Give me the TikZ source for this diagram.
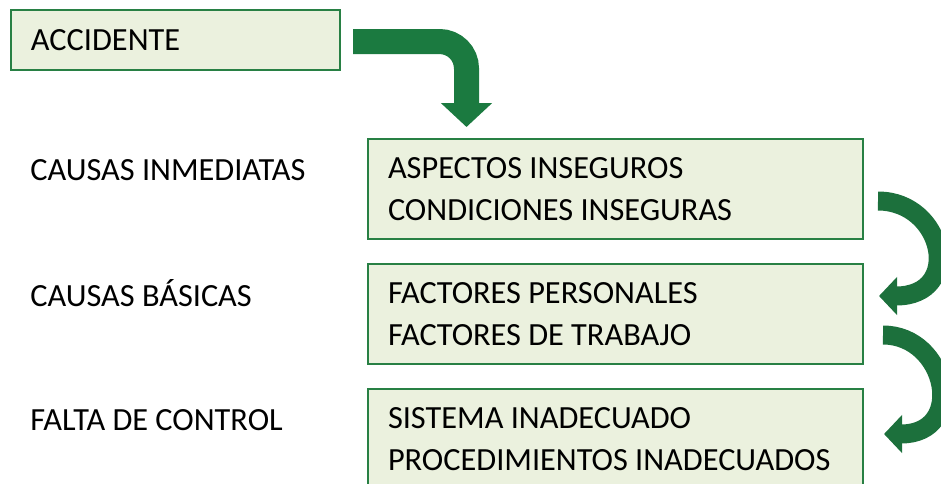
\documentclass[tikz,border=0pt]{standalone}
\usepackage{fontspec}
\setmainfont{Carlito}
\usetikzlibrary{arrows.meta, positioning, math, calc}

\definecolor{boxGreen}{RGB}{40,128,68}
\definecolor{boxFill}{RGB}{235,241,222}
\definecolor{arrowGreen}{RGB}{27,122,64}
\definecolor{curveGreen}{RGB}{28,112,60}

\begin{document}
\begin{tikzpicture}[x=0.02cm, y=-0.02cm]
	\tikzmath{
		\px       = 0.02;        %one pixel in cm
		\boxW     = 495*\px;     %box width
		\boxH     = 100*\px;     %box height
		\boxDist  = 23*\px;      %gap between the boxes
		\textX    = 30;          %left edge of the labels
		\bentW    = 25*\px;      %width of the bent arrow
		\curveW   = 19*\px;      %width of the curved arrows
	}
	\tikzstyle{Txt} = [font=\fontsize{18.4}{23.5}\selectfont]
	\tikzstyle{Box} = [
		Txt,
		rectangle,
		draw=boxGreen,
		line width=2*\px cm,
		fill=boxFill,
		inner xsep=20*\px cm,
		text width=\boxW cm - 40*\px cm,
		minimum height=\boxH cm,
		align=flush left
	]
	\tikzstyle{Label} = [Txt, anchor=base west, inner sep=0pt]
	\tikzstyle{BentArrow} = [
		draw=arrowGreen, line width=\bentW cm, rounded corners=27*\px cm,
		-{Triangle[length=24*\px cm, width=50*\px cm]}
	]
	\tikzstyle{CurveArrow} = [
		draw=curveGreen, line width=\curveW cm,
		-{Triangle[length=18*\px cm, width=37*\px cm]}
	]

	\clip (0,0) rectangle (941,484);

	%%%%%%%%%%%%%%%%%%%%%%%%%%===---ACCIDENT---===%%%%%%%%%%%%%%%%%%%%%%%%%%
	\node (acc) [Box, anchor=north west, text width=289*\px cm, minimum height=60*\px cm]
		at (10,9) {ACCIDENTE};

	%%%%%%%%%%%%%%%%%%%%%%%%%%===---CAUSES---===%%%%%%%%%%%%%%%%%%%%%%%%%%
	\node (box2) [Box, anchor=north west] at (367,138)
		{ASPECTOS INSEGUROS\\CONDICIONES INSEGURAS};
	\node (box3) [Box, below = \boxDist cm of box2]
		{FACTORES PERSONALES\\FACTORES DE TRABAJO};
	\node (box4) [Box, below = \boxDist cm of box3]
		{SISTEMA INADECUADO\\PROCEDIMIENTOS INADECUADOS};

	\node (lblInm)  [Label] at (\textX,180) {CAUSAS INMEDIATAS};
	\node (lblBas)  [Label] at (\textX,306) {CAUSAS BÁSICAS};
	\node (lblCtrl) [Label] at (\textX,430) {FALTA DE CONTROL};

	%%%%%%%%%%%%%%%%%%%%%%%%%%===---ARROWS---===%%%%%%%%%%%%%%%%%%%%%%%%%%
	\coordinate (bentStart) at ($(acc.east) + (12,1.5)$);
	\coordinate (bentEnd)   at ($(box2.north) + (-149,-11)$);
	\draw[BentArrow] (bentStart) -| (bentEnd);

	\coordinate (curve1Start) at ($(box2.east) + (14,12)$);
	\coordinate (curve1End)   at ($(box3.east) + (15,-18)$);
	\draw[CurveArrow] (curve1Start) .. controls +(66,0) and +(85,0) .. (curve1End);

	\coordinate (curve2Start) at ($(box3.east) + (19,21)$);
	\coordinate (curve2End)   at ($(box4.east) + (20,-5)$);
	\draw[CurveArrow] (curve2Start) .. controls +(64,0) and +(83,0) .. (curve2End);
\end{tikzpicture}
\end{document}
